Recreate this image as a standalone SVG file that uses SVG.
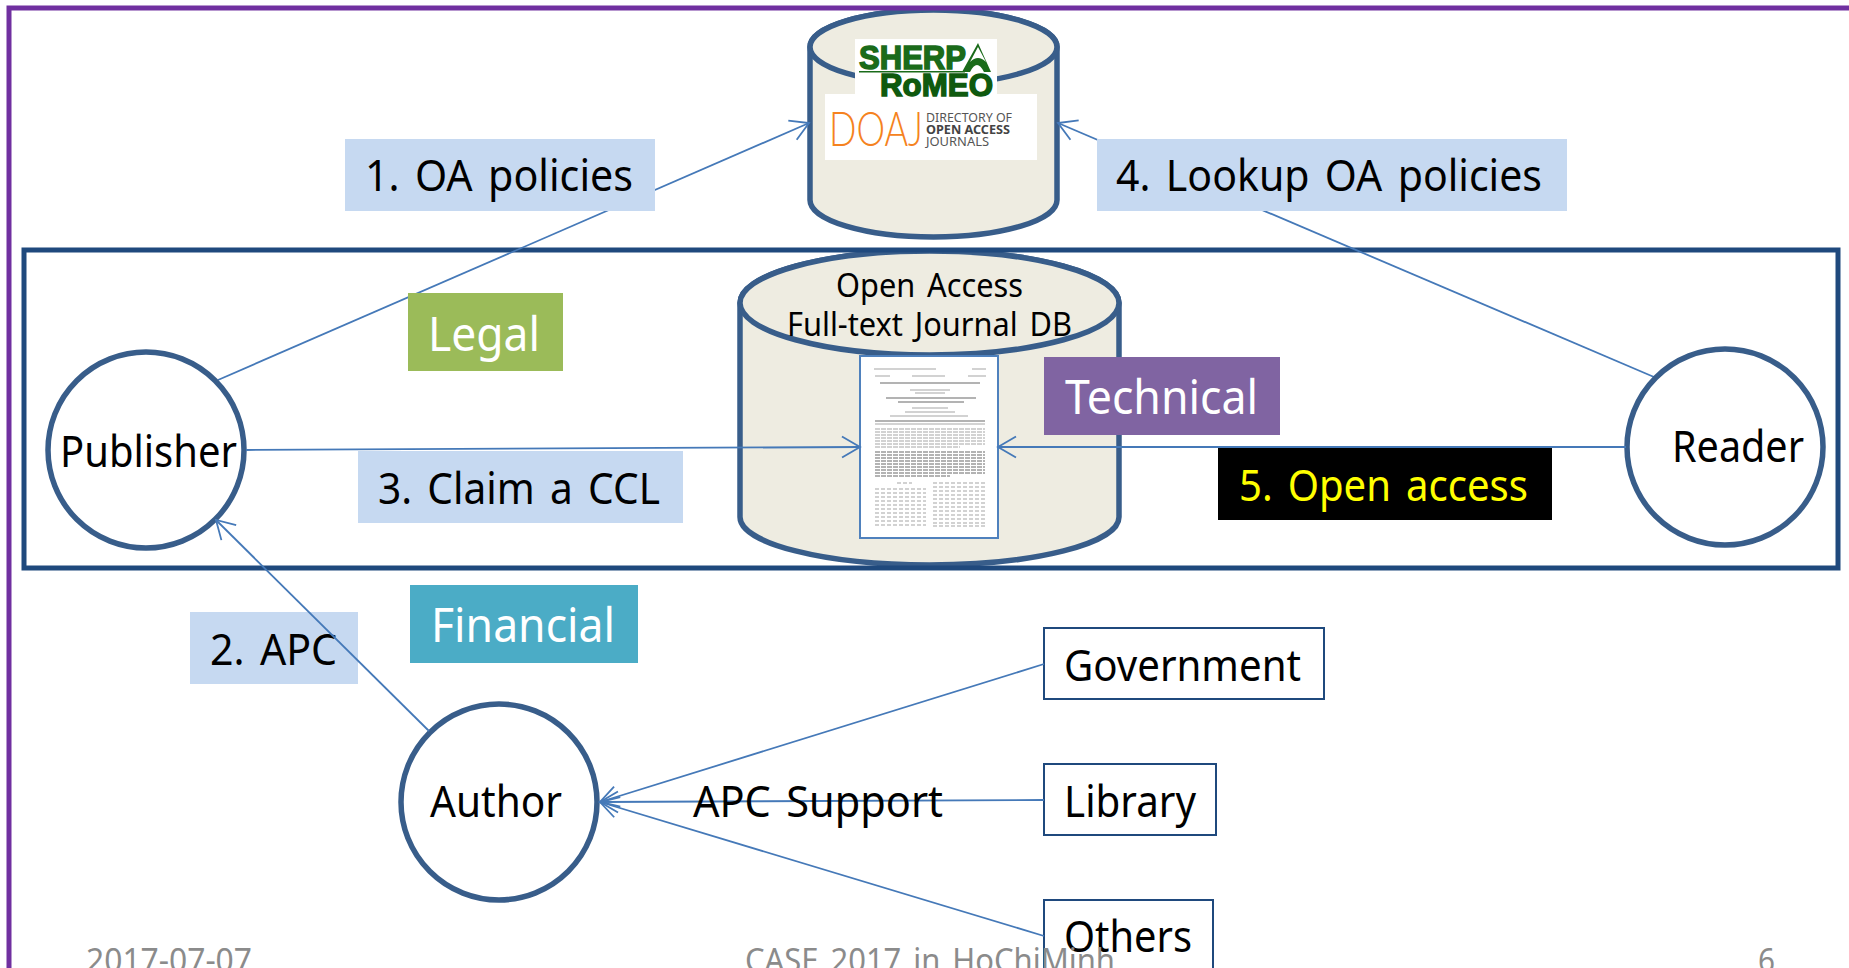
<svg xmlns="http://www.w3.org/2000/svg" width="1849" height="968" viewBox="0 0 1849 968">
<style>
text{font-family:"Noto Sans","Open Sans","Liberation Sans",sans-serif;fill:#000}
.t{font-size:44px;word-spacing:5px}
.w{fill:#fff}
.cyl{fill:#eeece1;stroke:#385d8a;stroke-width:5.5}
.node{fill:#fff;stroke:#385d8a;stroke-width:5.5}
.box{fill:#fff;stroke:#1f497d;stroke-width:2}
.lab{fill:#c6d9f1}
.c{fill:none;stroke:#4579b8;stroke-width:1.8;marker-end:url(#a)}
.f{font-size:32px;fill:#8b8b8b;word-spacing:4px}
.pl{stroke:#c4c4c4;stroke-width:1.6}
.pd{stroke:#9a9a9a;stroke-width:1.6}
</style>
<defs>
<marker id="a" markerUnits="userSpaceOnUse" markerWidth="24" markerHeight="24" refX="20" refY="12" orient="auto" overflow="visible">
<path d="M2 1.500L20 12L2 22.500" fill="none" stroke="#4579b8" stroke-width="1.800"/>
</marker>
</defs>
<rect width="1849" height="968" fill="#fff"/>

<g id="db-top">
<path class="cyl" d="M810 47V200A123.500 37 0 0 0 1057 200V47A123.500 37 0 0 0 810 47Z"/>
<ellipse class="cyl" cx="933.500" cy="47" rx="123.500" ry="37"/>
<rect x="855" y="39" width="142" height="60" fill="#fff"/>
<rect x="825" y="94" width="212" height="66" fill="#fff"/>
<text x="859" y="69" font-size="33" font-weight="700" stroke="#1a6b1a" stroke-width="1.500" style="fill:#1a6b1a;font-family:'Liberation Sans',sans-serif" textLength="107" lengthAdjust="spacingAndGlyphs">SHERP</text>
<path d="M962 72L978 43L991 72L984 72Q977 58 970 72ZM970 62L978 47L986 62Q978 54 970 62Z" fill="#1a6b1a" fill-rule="evenodd"/>
<rect x="859" y="71" width="106" height="1.500" fill="#1a6b1a"/>
<text x="880" y="96" font-size="32" font-weight="700" stroke="#0f5a0f" stroke-width="1.500" style="fill:#0f5a0f;font-family:'Liberation Sans',sans-serif" textLength="113" lengthAdjust="spacingAndGlyphs">RoMEO</text>
<text x="829" y="146" font-size="47" font-weight="300" style="fill:#f58220;font-family:Lato,sans-serif" textLength="94" lengthAdjust="spacingAndGlyphs">DOAJ</text>
<text x="926" y="122" font-size="12.500" style="fill:#555" textLength="86" lengthAdjust="spacingAndGlyphs">DIRECTORY OF</text>
<text x="926" y="134" font-size="12.500" font-weight="700" style="fill:#444" textLength="84" lengthAdjust="spacingAndGlyphs">OPEN ACCESS</text>
<text x="926" y="146" font-size="12.500" style="fill:#555" textLength="63" lengthAdjust="spacingAndGlyphs">JOURNALS</text>
</g>

<g id="db-oa">
<path class="cyl" d="M740 303V517A189.500 48 0 0 0 1119 517V303A189.500 52 0 0 0 740 303Z"/>
<ellipse class="cyl" cx="929.500" cy="303" rx="189.500" ry="52"/>
<text x="836" y="297" font-size="32" word-spacing="4" textLength="187" lengthAdjust="spacingAndGlyphs">Open Access</text>
<text x="787" y="336" font-size="32" word-spacing="4" textLength="285" lengthAdjust="spacingAndGlyphs">Full-text Journal DB</text>
<rect x="860" y="356" width="138" height="182" fill="#fff" stroke="#4f81bd" stroke-width="2"/>
<g class="pl">
<path d="M874 369H936M972 369H986M875 376H890M912 376H945M968 376H986"/>
<path class="pd" d="M880 383H980"/>
<path d="M910 390H950M915 393H945"/>
<path class="pd" d="M886 398H976M898 402H964"/>
<path d="M912 408H948M905 412H955M890 416H968"/>
<path class="pd" d="M875 421H985"/>
<path d="M875 424H985"/>
</g>
<g class="pl" stroke-dasharray="5 1">
<path d="M875 429H985M875 432H985M875 435H985M875 438H985M875 441H985M875 444H985M875 447H960"/>
</g>
<g class="pd" stroke-dasharray="5 1">
<path d="M875 452H985M875 455H985M875 458H985M875 461H985M875 464H985M875 467H985M875 470H985M875 473H985M875 476H950"/>
</g>
<g class="pl" stroke-dasharray="4 2">
<path d="M897 483H912"/>
<path d="M875 489H926M875 493H926M875 497H926M875 501H926M875 505H926M875 509H926M875 513H926M875 517H926M875 521H926M875 525H926"/>
<path d="M933 483H985M933 487H985M933 491H985M933 495H985M933 499H985M933 503H985M933 507H985M933 511H985M933 515H985M933 519H985M933 523H985M933 526H985"/>
</g>
</g>

<rect id="frame-blue" x="24" y="250" width="1814" height="318" fill="none" stroke="#1f497d" stroke-width="5"/>
<path id="frame-purple" d="M9 968V8H1849" fill="none" stroke="#7030a0" stroke-width="5"/>

<g id="connectors-under">
<path class="c" d="M218 380L809 123"/>
<path class="c" d="M1654 377L1058 123"/>
</g>

<g id="label-1"><rect class="lab" x="345" y="139" width="310" height="72"/><text class="t" x="365" y="191" textLength="268" lengthAdjust="spacingAndGlyphs">1. OA policies</text></g>
<g id="label-4"><rect class="lab" x="1097" y="139" width="470" height="72"/><text class="t" x="1116" y="191" textLength="426" lengthAdjust="spacingAndGlyphs">4. Lookup OA policies</text></g>
<g id="label-3"><rect class="lab" x="358" y="451" width="325" height="72"/><text class="t" x="378" y="504" textLength="282" lengthAdjust="spacingAndGlyphs">3. Claim a CCL</text></g>
<g id="label-5"><rect x="1218" y="448" width="334" height="72" fill="#000"/><text class="t" x="1239" y="501" style="fill:#ffff00" textLength="289" lengthAdjust="spacingAndGlyphs">5. Open access</text></g>
<g id="label-2"><rect class="lab" x="190" y="612" width="168" height="72"/><text class="t" x="210" y="665" textLength="127" lengthAdjust="spacingAndGlyphs">2. APC</text></g>
<g id="legal"><rect x="408" y="293" width="155" height="78" fill="#9bbb59"/><text class="t w" x="428" y="351" textLength="112" lengthAdjust="spacingAndGlyphs" style="font-size:47px">Legal</text></g>
<g id="technical"><rect x="1044" y="357" width="236" height="78" fill="#8064a2"/><text class="t w" x="1065" y="414" textLength="193" lengthAdjust="spacingAndGlyphs" style="font-size:47px">Technical</text></g>
<g id="financial"><rect x="410" y="585" width="228" height="78" fill="#4bacc6"/><text class="t w" x="431" y="642" textLength="184" lengthAdjust="spacingAndGlyphs" style="font-size:47px">Financial</text></g>

<g id="publisher"><circle class="node" cx="146" cy="450" r="98"/><text class="t" x="60" y="467" textLength="177" lengthAdjust="spacingAndGlyphs">Publisher</text></g>
<g id="reader"><circle class="node" cx="1725" cy="447" r="98"/><text class="t" x="1672" y="462" textLength="132" lengthAdjust="spacingAndGlyphs">Reader</text></g>
<g id="author"><circle class="node" cx="499" cy="802" r="98"/><text class="t" x="430" y="817" textLength="132" lengthAdjust="spacingAndGlyphs">Author</text></g>
<g id="government"><rect class="box" x="1044" y="628" width="280" height="71"/><text class="t" x="1064" y="681" textLength="237" lengthAdjust="spacingAndGlyphs">Government</text></g>
<g id="library"><rect class="box" x="1044" y="764" width="172" height="71"/><text class="t" x="1064" y="817" textLength="132" lengthAdjust="spacingAndGlyphs">Library</text></g>
<g id="others"><rect class="box" x="1044" y="900" width="169" height="72"/><text class="t" x="1064" y="952" textLength="128" lengthAdjust="spacingAndGlyphs">Others</text></g>

<g id="connectors">
<path class="c" d="M246 450L860 447"/>
<path class="c" d="M1626 447L998 447"/>
<path class="c" d="M429 731L216 520"/>
<path class="c" d="M1044 664L600 802"/>
<path class="c" d="M1044 800L600 802"/>
<path class="c" d="M1044 936L600 802"/>
</g>
<text class="t" x="693" y="817" textLength="250" lengthAdjust="spacingAndGlyphs">APC Support</text>

<g id="footer">
<text class="f" x="86" y="972" textLength="166" lengthAdjust="spacingAndGlyphs">2017-07-07</text>
<text class="f" x="745" y="972" textLength="370" lengthAdjust="spacingAndGlyphs">CASE 2017 in HoChiMinh</text>
<text class="f" x="1758" y="972" textLength="17" lengthAdjust="spacingAndGlyphs">6</text>
</g>
</svg>
